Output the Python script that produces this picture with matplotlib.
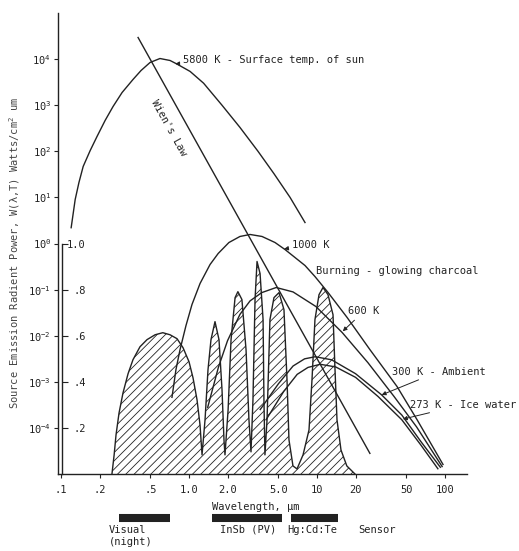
"""
Blackbody source emission vs. wavelength, with atmospheric transmission
windows (hatched, linear 0-1 scale) and sensor bands underneath.
"""

import matplotlib
matplotlib.use("Agg")
import matplotlib.pyplot as plt
from matplotlib.ticker import FixedLocator, NullLocator
from matplotlib.transforms import blended_transform_factory

plt.rcParams["font.family"] = ["DejaVu Sans Mono"]
plt.rcParams["mathtext.fontset"] = "custom"
plt.rcParams["mathtext.rm"] = "DejaVu Sans Mono"
plt.rcParams["hatch.linewidth"] = 0.6

INK = "#222222"
FS = 7.5

# --- blackbody curves: wavelength (um) vs W (Watts/cm^2 um)
sun_lam = [0.120, 0.129, 0.138, 0.149, 0.169, 0.191, 0.221, 0.255, 0.300, 0.365,
           0.422, 0.496, 0.593, 0.711, 0.806, 1.02, 1.30, 1.81, 2.50, 3.46,
           4.60, 6.16, 8.06]
sun_W = [2.2, 9.0, 21, 47, 104, 209, 466, 937, 1885, 3610,
         5660, 8440, 10300, 9330, 7800, 5400, 3000, 1000, 330, 100,
         33, 10, 2.85]

k1000_lam = [0.736, 0.791, 0.851, 0.947, 1.055, 1.22, 1.46, 1.69, 2.05, 2.50,
             3.00, 3.72, 4.70, 5.62, 6.73, 8.06, 9.64, 12.2, 17.2, 25.9,
             42.2, 60.4, 96.5]
k1000_W = [4.6e-4, 1.85e-3, 5.0e-3, 0.0166, 0.0475, 0.136, 0.350, 0.607, 1.05, 1.42,
           1.57, 1.42, 1.05, 0.741, 0.497, 0.333, 0.192, 0.0865, 0.0248, 5.0e-3,
           7.9e-4, 1.52e-4, 1.61e-5]

k600_lam = [1.4, 1.7, 2.0, 2.5, 3.0, 3.7, 4.8, 6.5, 9.8, 15.7, 25, 40, 60, 95]
k600_W = [2.8e-4, 2.1e-3, 7.8e-3, 0.029, 0.057, 0.086, 0.111, 0.089, 0.043, 0.0118,
          2.6e-3, 4.8e-4, 1.05e-4, 1.45e-5]

k300_lam = [3.6, 5.0, 6.5, 8.0, 9.7, 13, 20, 32, 46, 65, 92]
k300_W = [2.5e-4, 9.1e-4, 2.2e-3, 3.15e-3, 3.5e-3, 3.0e-3, 1.5e-3, 5.2e-4, 1.9e-4, 5.0e-5, 1.4e-5]

k273_lam = [4.0, 5.5, 7.0, 8.5, 10.6, 14, 20, 30, 46, 65, 88]
k273_W = [1.5e-4, 6.2e-4, 1.45e-3, 2.05e-3, 2.4e-3, 2.1e-3, 1.25e-3, 4.8e-4, 1.5e-4, 4.2e-5, 1.3e-5]

wien_lam = [0.40, 25.9]
wien_W = [2.94e4, 2.8e-5]

# --- atmospheric transmission (linear, 0..1)
trans_lam = [0.250, 0.260, 0.269, 0.284, 0.305, 0.334, 0.365, 0.414, 0.470, 0.543,
             0.624, 0.711, 0.806, 0.898, 1.0, 1.075, 1.155, 1.219, 1.264,
             1.334, 1.407, 1.485, 1.596, 1.715, 1.811, 1.876, 1.91,
             2.02, 2.13, 2.29, 2.41, 2.59, 2.79, 2.94, 3.05,
             3.16, 3.28, 3.40, 3.59, 3.79, 3.85, 3.92,
             4.07, 4.29, 4.61, 5.05, 5.52, 5.83, 6.04, 6.49, 6.98,
             7.78, 8.66, 9.14, 9.64, 10.37, 11.14, 12.19, 13.34, 13.83, 14.33,
             15.4, 17.1, 19.8]
trans_T = [0.0, 0.083, 0.170, 0.265, 0.352, 0.435, 0.496, 0.552, 0.583, 0.604,
           0.613, 0.604, 0.587, 0.548, 0.487, 0.417, 0.322, 0.213, 0.083,
           0.235, 0.452, 0.583, 0.661, 0.583, 0.365, 0.148, 0.083,
           0.278, 0.583, 0.765, 0.791, 0.757, 0.539, 0.235, 0.096,
           0.322, 0.757, 0.922, 0.870, 0.670, 0.322, 0.083,
           0.235, 0.670, 0.765, 0.787, 0.713, 0.409, 0.148, 0.035, 0.022,
           0.083, 0.191, 0.409, 0.670, 0.778, 0.809, 0.778, 0.691, 0.452, 0.235,
           0.104, 0.035, 0.0]

x_ticks = [0.1, 0.2, 0.5, 1.0, 2.0, 5.0, 10, 20, 50, 100]
x_tick_labels = [".1", ".2", ".5", "1.0", "2.0", "5.0", "10", "20", "50", "100"]
y_ticks = [1e-4, 1e-3, 1e-2, 1e-1, 1e0, 1e1, 1e2, 1e3, 1e4]
y_tick_labels = [r"$10^{-4}$", r"$10^{-3}$", r"$10^{-2}$", r"$10^{-1}$", r"$10^{0}$",
                 r"$10^{1}$", r"$10^{2}$", r"$10^{3}$", r"$10^{4}$"]
t_ticks = [0.2, 0.4, 0.6, 0.8, 1.0]
t_tick_labels = [".2", ".4", ".6", ".8", "1.0"]

sensor_names = ["Visual\n(night)", "InSb (PV)", "Hg:Cd:Te"]
sensor_lo = [0.284, 1.51, 6.27]
sensor_hi = [0.711, 5.33, 14.6]
sensor_label_x = [0.237, 1.745, 5.83]


def main():
    fig = plt.figure(figsize=(5.19, 5.51), dpi=100)
    ax = fig.add_axes([58 / 519, 1 - 474 / 551, 409 / 519, 461 / 551])
    ax.set_xscale("log")
    ax.set_yscale("log")
    ax.set_xlim(0.0947, 148.6)
    ax.set_ylim(1e-5, 1e5)
    for s in ("top", "right"):
        ax.spines[s].set_visible(False)
    for s in ("left", "bottom"):
        ax.spines[s].set_color(INK)
        ax.spines[s].set_linewidth(1.0)

    ax.xaxis.set_major_locator(FixedLocator(x_ticks))
    ax.xaxis.set_minor_locator(NullLocator())
    ax.set_xticklabels(x_tick_labels)
    ax.yaxis.set_major_locator(FixedLocator(y_ticks))
    ax.yaxis.set_minor_locator(NullLocator())
    ax.set_yticklabels(y_tick_labels)
    ax.tick_params(direction="out", length=3, width=0.8, colors=INK,
                   labelsize=FS, pad=2)
    ax.tick_params(axis="x", pad=5)

    # blackbody curves + Wien's law
    for lam, w in [(sun_lam, sun_W), (k1000_lam, k1000_W), (k600_lam, k600_W),
                   (k300_lam, k300_W), (k273_lam, k273_W), (wien_lam, wien_W)]:
        ax.plot(lam, w, color=INK, lw=1.0)

    # transmission on a linear twin scale (0 at 1e-5, 1.0 at 1e0)
    ax2 = ax.twinx()
    ax2.set_ylim(0, 2.0)
    ax2.yaxis.tick_left()
    for s in ("top", "right", "bottom"):
        ax2.spines[s].set_visible(False)
    ax2.spines["left"].set_position(("axes", 4 / 409))
    ax2.spines["left"].set_bounds(0, 1.0)
    ax2.spines["left"].set_color(INK)
    ax2.spines["left"].set_linewidth(1.0)
    ax2.yaxis.set_major_locator(FixedLocator(t_ticks))
    ax2.set_yticklabels(t_tick_labels)
    ax2.tick_params(axis="y", direction="in", length=4, width=0.8, colors=INK,
                    labelsize=FS, pad=-17)
    ax2.fill_between(trans_lam, 0, trans_T, facecolor="none", edgecolor=INK,
                     hatch="////", linewidth=0)
    ax2.plot(trans_lam, trans_T, color=INK, lw=1.0)

    arrow = dict(arrowstyle="-|>", lw=0.7, color=INK, mutation_scale=6,
                 shrinkA=1, shrinkB=0)
    ax.annotate("5800 K - Surface temp. of sun", xy=(0.78, 7900), xytext=(0.90, 9800),
                ha="left", va="center", fontsize=FS, color=INK, arrowprops=arrow)
    ax.annotate("1000 K", xy=(5.53, 0.76), xytext=(6.38, 0.95),
                ha="left", va="center", fontsize=FS, color=INK, arrowprops=arrow)
    ax.text(9.83, 0.247, "Burning - glowing charcoal", ha="left", va="center",
            fontsize=FS, color=INK)
    ax.annotate("600 K", xy=(15.9, 0.0125), xytext=(17.5, 0.0335),
                ha="left", va="center", fontsize=FS, color=INK, arrowprops=arrow)
    ax.annotate("300 K - Ambient", xy=(32, 5.2e-4), xytext=(38.6, 1.67e-3),
                ha="left", va="center", fontsize=FS, color=INK, arrowprops=arrow)
    ax.annotate("273 K - Ice water", xy=(46.9, 1.55e-4), xytext=(53.3, 3.2e-4),
                ha="left", va="center", fontsize=FS, color=INK, arrowprops=arrow)
    ax.text(0.698, 328, "Wien's Law", rotation=-61, rotation_mode="anchor",
            ha="center", va="center", fontsize=FS, color=INK)

    # labels and sensor bands below the axis
    trans = blended_transform_factory(ax.transData, fig.transFigure)
    ax.text(1.51, 1 - 507 / 551, "Wavelength, \u03bcm", transform=trans,
            ha="left", va="center", fontsize=FS, color=INK)
    for name, lo, hi, lx in zip(sensor_names, sensor_lo, sensor_hi, sensor_label_x):
        ax.plot([lo, hi], [1 - 518 / 551] * 2, transform=trans, color=INK,
                lw=5.8, solid_capstyle="butt", clip_on=False)
        ax.text(lx, 1 - 525 / 551, name, transform=trans, ha="left", va="top",
                fontsize=FS, color=INK, linespacing=1.2)
    ax.text(20.9, 1 - 525 / 551, "Sensor", transform=trans, ha="left", va="top",
            fontsize=FS, color=INK)

    fig.text(15 / 519, 1 - 253 / 551,
             "Source Emission Radient Power, W(\u03bb,T) Watts/cm$^{2}$ um",
             rotation=90, ha="center", va="center", fontsize=FS, color="#444444")

    fig.savefig("out.png", dpi=100, facecolor="white")
    plt.close(fig)


if __name__ == "__main__":
    main()
